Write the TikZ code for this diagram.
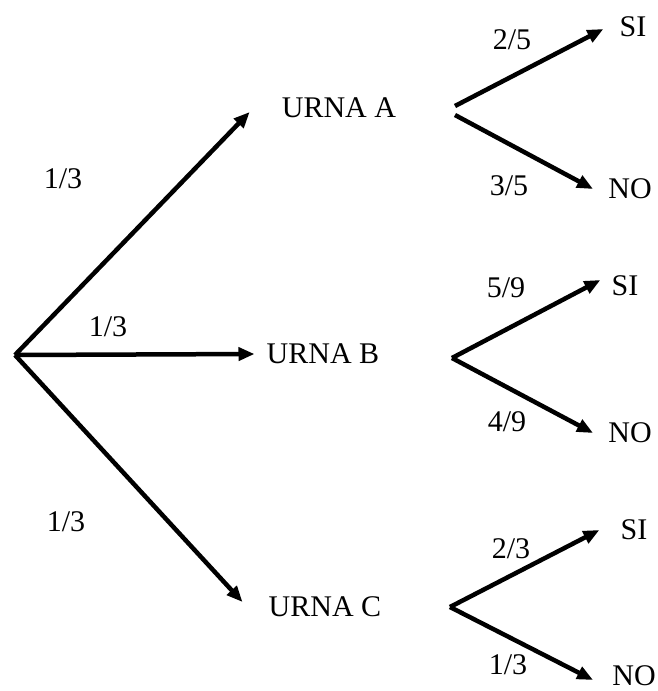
\documentclass[tikz,border=0pt]{standalone}
\usepackage{fontspec}
\setmainfont{Liberation Serif}
\usetikzlibrary{arrows.meta}
\begin{document}
\begin{tikzpicture}[x=1pt,y=-1pt,>={Triangle[length=16pt,width=13pt]},line width=4.5pt,
	every node/.style={inner sep=0pt,font=\fontsize{30}{36}\selectfont}]
	\useasboundingbox (0,0) rectangle (658,691);
	% urne
	\coordinate (O) at (15,355);
	\node (A) at (339,108) {URNA A};
	\node (B) at (323,354) {URNA B};
	\node (C) at (325,607) {URNA C};
	\coordinate (A1) at (455,106); \coordinate (A2) at (455,115);
	\coordinate (B0) at (452,358);
	\coordinate (C0) at (450,607);
	% esiti
	\node (SIa) at (633,27) {SI};
	\node (NOa) at (630,189) {NO};
	\node (SIb) at (625,286) {SI};
	\node (NOb) at (630,433) {NO};
	\node (SIc) at (634,530) {SI};
	\node (NOc) at (634,676) {NO};
	\draw[->] (O)--([xshift=-30pt,yshift=-4pt]A.west);
	\draw[->] (O)--([xshift=-10pt]B.west);
	\draw[->] (O)--([xshift=-24pt,yshift=5pt]C.west);
	\draw[->] (A1)--([xshift=-14pt,yshift=-2pt]SIa.west);
	\draw[->] (A2)--([xshift=-13pt]NOa.west);
	\draw[->] (B0)--([xshift=-9pt,yshift=6pt]SIb.west);
	\draw[->] (B0)--([xshift=-13pt]NOb.west);
	\draw[->] (C0)--([xshift=-19pt]SIc.west);
	\draw[->] (C0)--([xshift=-17pt,yshift=-4pt]NOc.west);
	% probabilita
	\node (pA) at (63,179) {1/3};
	\node (pB) at (108,327) {1/3};
	\node (pC) at (66,522) {1/3};
	\node (pAs) at (512,40) {2/5};
	\node (pAn) at (509,186) {3/5};
	\node (pBs) at (506,288) {5/9};
	\node (pBn) at (507,422) {4/9};
	\node (pCs) at (511,549) {2/3};
	\node (pCn) at (508,665) {1/3};
\end{tikzpicture}
\end{document}
